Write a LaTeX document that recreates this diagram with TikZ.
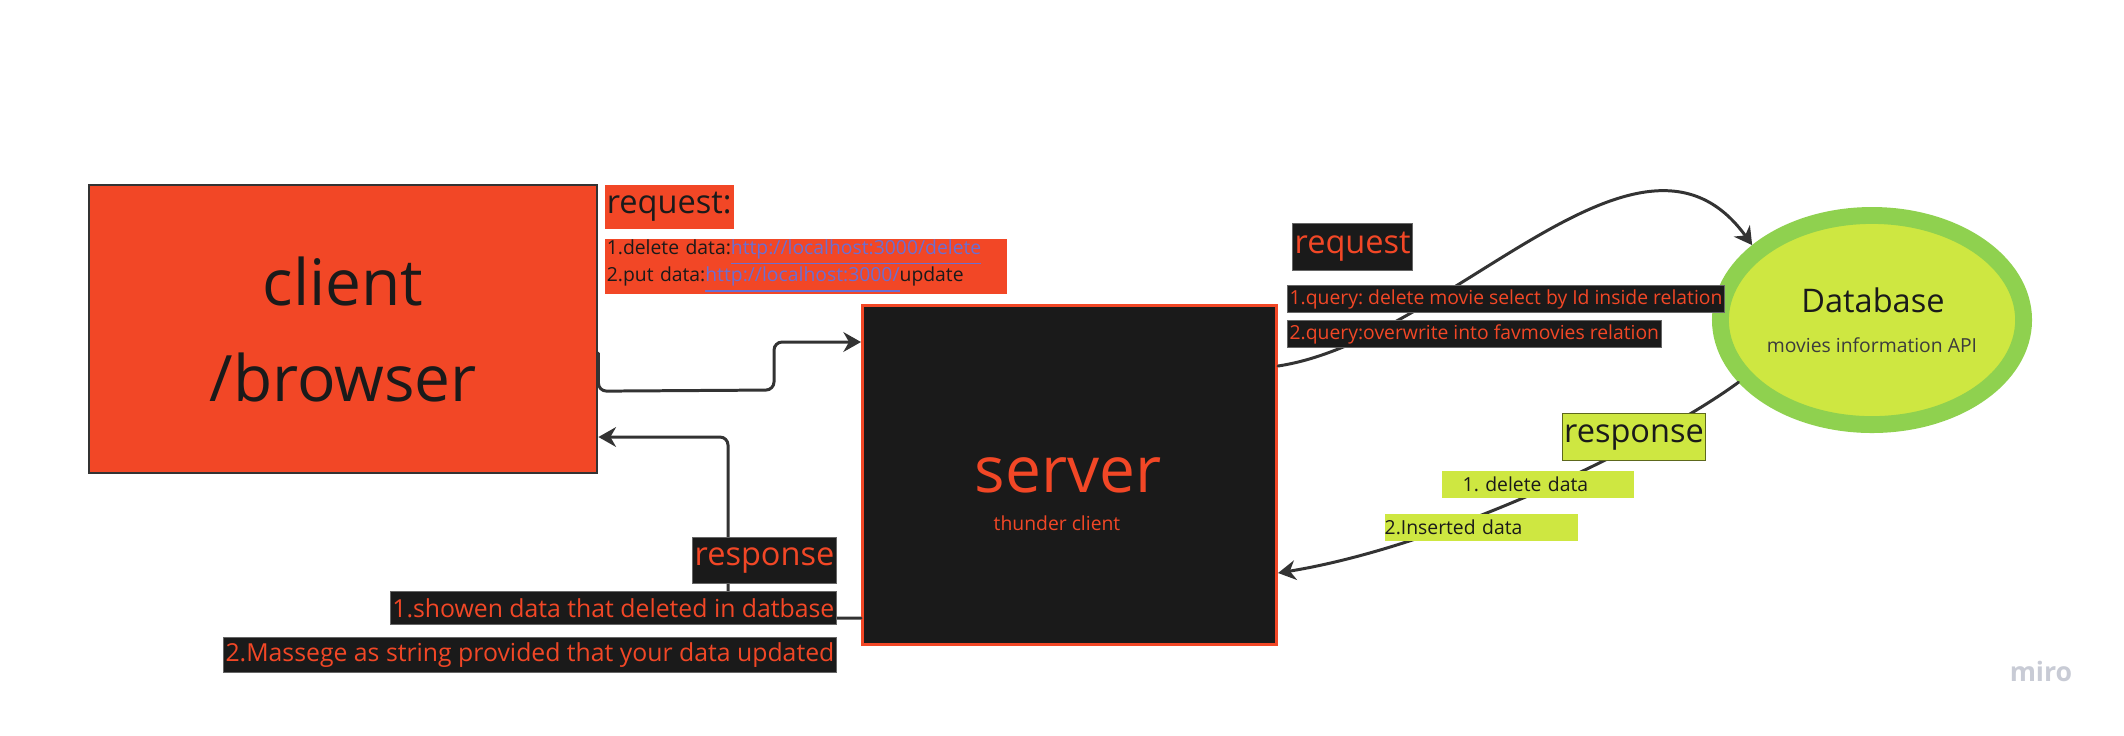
\documentclass[tikz,border=0pt]{standalone}
\usepackage{fontspec}
\setmainfont{Open Sans}
\usetikzlibrary{arrows.meta,shapes.geometric}

\definecolor{miroRed}{HTML}{F24726}
\definecolor{darkFill}{HTML}{1A1A1A}
\definecolor{lineGray}{HTML}{333333}
\definecolor{dbOuter}{HTML}{8FD14F}
\definecolor{dbInner}{HTML}{CEE741}
\definecolor{linkBlue}{HTML}{6A6FD3}
\definecolor{waterGray}{HTML}{C8CBD5}

\newcommand{\fontXL}{\fontsize{18.2}{27.3}\selectfont}
\newcommand{\fontMd}{\fontsize{9.25}{11}\selectfont}
\newcommand{\fontLg}{\fontsize{7.05}{9}\selectfont}
\newcommand{\fontSm}{\fontsize{5.5}{7.7}\selectfont}
\newcommand{\weblink}[1]{\textcolor{linkBlue}{\underline{#1}}}
\frenchspacing

\begin{document}
\begin{tikzpicture}[x=0.01cm,y=-0.01cm,
  clientbox/.style={fill=miroRed, draw=lineGray, line width=0.6pt, text=darkFill, align=center, font=\fontXL, inner sep=0pt},
  serverbox/.style={fill=darkFill, draw=miroRed, line width=0.8pt, inner sep=0pt},
  dbnode/.style={ellipse, fill=dbInner, draw=dbOuter, line width=4.8pt, minimum width=3.03cm, minimum height=2.09cm, inner sep=0pt},
  redtag/.style={fill=miroRed, text=darkFill, inner xsep=0.6pt, inner ysep=0pt, anchor=north west},
  darktag/.style={fill=darkFill, text=miroRed, draw=black!60, line width=0.3pt, inner xsep=0.6pt, inner ysep=0pt},
  limetag/.style={fill=dbInner, text=darkFill, inner sep=0pt, anchor=north west},
  conn/.style={draw=lineGray, line width=0.85pt, line cap=round, -{Stealth[length=5pt,width=5.6pt,inset=1.6pt]}}]
\useasboundingbox (0,0) rectangle (2124,735);

% main blocks
\node[clientbox, minimum width=5.08cm, minimum height=2.88cm, anchor=north west] (client) at (88,184) {client\\/browser};
\node[serverbox, minimum width=4.14cm, minimum height=3.39cm, anchor=north west] (server) at (861,304) {};
\node[font=\fontXL, text=miroRed, anchor=base] (srvname) at (1068,492) {server};
\node[font=\fontSm, text=miroRed, anchor=base] (srvtool) at (1057,530) {thunder client};
\node[dbnode] (db) at (1872,320) {};
\node[font=\fontMd, text=darkFill, anchor=base] (dbname) at (1873,312) {Database};
\node[font=\fontSm, text=darkFill!85, anchor=base] (dbinfo) at (1872,352) {movies information API};

% connectors
\coordinate (reqlow) at (774,390);
\coordinate (reqhigh) at (774,342);
\draw[conn, rounded corners=2.3pt] (client.east) ++(0,24) -- ++(0,38) -- (reqlow) -- (reqhigh) -- (server.west |- reqhigh);

\coordinate (retlow) at (728,618);
\coordinate (rethigh) at (728,437);
\draw[conn, rounded corners=2.3pt] (server.west |- retlow) -- (retlow) -- (rethigh) -- (client.east |- rethigh);

\coordinate (qstart) at (1277,366);
\draw[conn] (server.east |- qstart) .. controls (1450,340) and (1640,90) .. (db.148);

\coordinate (rstop) at (1277,573);
\draw[conn] (db.205) .. controls (1660,440) and (1450,545) .. (server.east |- rstop);

% client side labels
\node[redtag, font=\fontMd, minimum height=0.44cm] (reqhead) at (604,184) {request:};
\node[redtag, font=\fontSm, text width=3.98cm, align=left, minimum height=0.55cm] (reqlist) at (604,238)
  {1.delete data:\weblink{http://localhost:3000/delete}\\2.put data:\weblink{http://localhost:3000/}update};

\node[darktag, font=\fontMd, minimum height=0.46cm, anchor=north east] (resphead) at (837,537) {response};
\node[darktag, font=\fontLg, minimum height=0.33cm, anchor=north east] (resp1) at (837,591) {1.showen data that deleted in datbase};
\node[darktag, font=\fontLg, minimum height=0.35cm, anchor=north east] (resp2) at (837,637) {2.Massege as string provided that your data updated};

% database side labels
\node[darktag, font=\fontMd, minimum height=0.47cm, anchor=north west] (qhead) at (1292,223) {request};
\node[darktag, font=\fontSm, minimum height=0.27cm, anchor=north west] (query1) at (1287,285) {1.query: delete movie select by Id inside relation};
\node[darktag, font=\fontSm, minimum height=0.27cm, anchor=north west] (query2) at (1287,320) {2.query:overwrite into favmovies relation};

\node[limetag, draw=black!55!dbInner, line width=0.4pt, font=\fontMd, minimum height=0.47cm, inner xsep=0.4pt] (dbresp) at (1562,413) {response};
\node[limetag, font=\fontSm, text width=1.92cm, align=left, minimum height=0.27cm] (dbresp1) at (1441,470) {\hspace*{0.21cm}1. delete data};
\node[limetag, font=\fontSm, text width=1.93cm, align=left, minimum height=0.27cm] (dbresp2) at (1384,513) {2.Inserted data};

\node[font=\fontsize{7.6}{9}\selectfont\bfseries, text=waterGray, anchor=base] (miro) at (2041,681) {miro};
\end{tikzpicture}
\end{document}
